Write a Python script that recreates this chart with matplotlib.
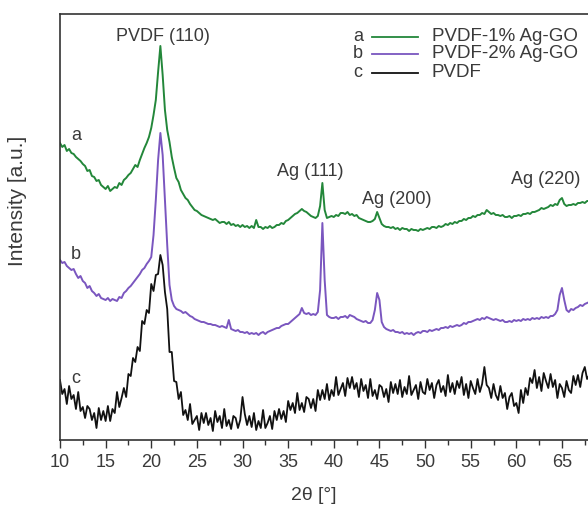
import numpy as np
import matplotlib
matplotlib.use('Agg')
import matplotlib.pyplot as plt

plt.rcParams['font.family'] = ['Liberation Sans', 'DejaVu Sans']

# 2theta grid, 0.25 deg steps from 10 to 68
two_theta = np.arange(10, 68.01, 0.25)

# a: PVDF-1% Ag-GO (arbitrary units)
pvdf_1_ag_go = [
    297, 293, 295, 289,  291, 287, 286, 283,  281, 279, 276, 274,  269, 270, 264, 263,
    259, 260, 255, 253,  251, 254, 249, 251,  253, 252, 257, 255,  260, 262, 265, 267,
    271, 275, 273, 280,  286, 292, 297, 303,  312, 325, 340, 368,  394, 365, 330, 310,
    298, 283, 272, 262,  258, 250, 246, 242,  240, 236, 233, 230,  229, 227, 225, 224,
    223, 222, 221, 220,  221, 219, 217, 218,  218, 216, 218, 215,  216, 214, 215, 213,
    215, 213, 214, 212,  214, 212, 220, 213,  213, 211, 213, 212,  214, 212, 213, 215,
    215, 217, 216, 219,  220, 222, 224, 226,  227, 229, 231, 229,  228, 226, 224, 223,
    222, 224, 234, 257,  230, 222, 223, 224,  223, 225, 224, 227,  227, 226, 228, 225,
    226, 224, 225, 222,  221, 220, 219, 218,  218, 219, 221, 228,  222, 216, 214, 213,
    213, 212, 213, 211,  212, 210, 212, 211,  211, 209, 211, 210,  210, 209, 211, 210,
    211, 212, 211, 213,  213, 212, 214, 213,  214, 216, 215, 217,  216, 218, 217, 219,
    219, 221, 220, 222,  222, 224, 223, 225,  225, 227, 226, 230,  228, 226, 227, 225,
    225, 224, 225, 223,  223, 224, 222, 224,  224, 225, 224, 226,  226, 227, 226, 228,
    228, 229, 230, 232,  231, 232, 233, 235,  234, 236, 235, 240,  242, 236, 234, 235,
    235, 236, 235, 237,  237, 238, 237, 239,  239,
]

# b: PVDF-2% Ag-GO
pvdf_2_ag_go = [
    180, 177, 178, 174,  172, 170, 171, 166,  162, 164, 159, 157,  152, 154, 149, 147,
    144, 146, 142, 141,  140, 142, 139, 141,  140, 139, 143, 142,  147, 149, 152, 154,
    157, 160, 163, 166,  170, 172, 176, 179,  183, 205, 240, 280,  307, 285, 240, 195,
    155, 140, 134, 131,  130, 129, 127, 128,  126, 124, 123, 121,  120, 119, 118, 118,
    117, 116, 116, 115,  115, 114, 113, 114,  113, 112, 120, 111,  110, 109, 110, 108,
    108, 107, 108, 106,  107, 106, 107, 105,  107, 108, 106, 108,  109, 110, 111, 112,
    112, 114, 115, 116,  116, 118, 120, 122,  124, 126, 132, 127,  126, 127, 125, 126,
    125, 128, 150, 217,  160, 125, 123, 122,  122, 123, 121, 123,  123, 124, 122, 125,
    124, 123, 121, 120,  119, 118, 119, 117,  117, 120, 130, 147,  140, 118, 113, 111,
    110, 109, 110, 108,  108, 107, 108, 106,  107, 106, 107, 105,  107, 108, 107, 109,
    109, 108, 110, 109,  110, 111, 110, 112,  112, 113, 112, 114,  113, 114, 115, 114,
    115, 117, 116, 118,  118, 119, 120, 121,  120, 122, 121, 123,  122, 121, 120, 121,
    120, 119, 120, 118,  118, 119, 118, 120,  119, 120, 119, 121,  120, 121, 120, 122,
    121, 122, 121, 123,  122, 123, 122, 124,  124, 126, 130, 145,  152, 140, 130, 128,
    131, 130, 132, 133,  135, 134, 136, 137,  138,
]

# c: PVDF (very noisy trace)
pvdf = [
    60, 46, 51, 36,  54, 41, 45, 31,  48, 29, 33, 22,  34, 31, 20, 27,
    12, 32, 20, 29,  19, 34, 19, 31,  27, 48, 33, 42,  52, 43, 66, 64,
    82, 78, 93, 89,  119, 116, 130, 127,  156, 149, 165, 166,  185, 175, 148, 131,
    88, 88, 59, 58,  41, 48, 25, 30,  20, 36, 16, 20,  24, 10, 27, 17,
    27, 15, 22, 9,  29, 18, 24, 12,  31, 14, 20, 11,  24, 22, 12, 20,
    43, 26, 15, 24,  13, 27, 10, 19,  12, 30, 12, 17,  24, 11, 29, 20,
    31, 21, 29, 18,  39, 30, 37, 27,  47, 30, 37, 28,  43, 41, 32, 41,
    29, 50, 40, 50,  41, 56, 40, 50,  44, 63, 45, 51,  57, 44, 62, 52,
    63, 51, 57, 43,  61, 49, 55, 42,  61, 44, 50, 41,  55, 53, 43, 51,
    38, 58, 47, 56,  46, 60, 43, 53,  46, 64, 45, 50,  55, 41, 58, 48,
    46, 61, 50, 57,  42, 55, 60, 48,  54, 44, 65, 48,  57, 46, 59, 52,
    63, 45, 56, 42,  59, 52, 46, 61,  48, 56, 73, 55,  52, 42, 56, 45,
    40, 54, 42, 47,  31, 43, 47, 34,  37, 27, 50, 37,  52, 45, 62, 57,
    70, 52, 63, 49,  67, 59, 52, 66,  53, 60, 42, 56,  52, 43, 59, 50,
    47, 64, 55, 65,  53, 67, 73, 61,  65,
]

series_names = ['PVDF-1% Ag-GO', 'PVDF-2% Ag-GO', 'PVDF']
series_letters = ['a', 'b', 'c']
colors = ['#23873a', '#7a56bf', '#111111']
widths = [1.4, 1.4, 1.3]

# peak labels: (text, 2theta, intensity)
peak_labels = [('PVDF (110)', 21.3, 403), ('Ag (111)', 37.4, 268),
               ('Ag (200)', 46.9, 240), ('Ag (220)', 63.2, 260)]
letter_pos = [(11.75, 304), (11.75, 185), (11.75, 62)]

text_col = '#3a3a3a'

fig = plt.figure(figsize=(5.88, 5.05), dpi=100)
ax = fig.add_axes([0.102, 0.1287, 0.9003, 0.8436])

data = [pvdf_1_ag_go, pvdf_2_ag_go, pvdf]
for ys, c, w in zip(data, colors, widths):
    ax.plot(two_theta, ys, color=c, lw=w)

for (lx, ly), s in zip(letter_pos, series_letters):
    ax.text(lx, ly, s, fontsize=13, color=text_col, ha='center', va='center')

for s, px, py in peak_labels:
    ax.text(px, py, s, fontsize=13, color=text_col, ha='center', va='center')

# legend drawn by hand: letter, short line, name
leg_y = [403, 386, 367]
for i in range(3):
    ax.text(42.65, leg_y[i], series_letters[i], fontsize=13, color=text_col,
            ha='center', va='center')
    ax.plot([44.2, 49.2], [leg_y[i], leg_y[i]], color=colors[i], lw=1.3)
    ax.text(50.76, leg_y[i], series_names[i], fontsize=13.5, color=text_col,
            ha='left', va='center')

ax.set_xlim(10, 68)
ax.set_ylim(0, 426)
ax.set_xticks(np.arange(10, 66, 5))
ax.set_xticks(np.arange(12.5, 68, 5), minor=True)
ax.set_yticks([])
ax.tick_params(axis='x', which='major', direction='out', length=6, width=1,
               colors='#333333', labelsize=13, labelcolor=text_col, pad=4)
ax.tick_params(axis='x', which='minor', direction='out', length=3.5, width=1,
               colors='#333333')
for sp in ['left', 'top', 'bottom']:
    ax.spines[sp].set_color('#333333')
    ax.spines[sp].set_linewidth(1.2)
ax.spines['right'].set_visible(False)

ax.set_xlabel('2\u03b8 [\u00b0]', fontsize=14, color=text_col)
ax.set_ylabel('Intensity [a.u.]', fontsize=15, color=text_col)
ax.xaxis.set_label_coords(0.48, -0.110)
ax.yaxis.set_label_coords(-0.062, 0.561)

fig.savefig('out.png', dpi=100)
